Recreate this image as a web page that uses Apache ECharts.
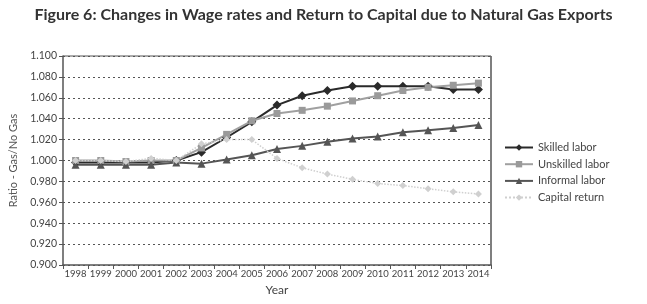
<!DOCTYPE html>
<html>
<head>
    <meta charset="utf-8">
    <title>Figure 6</title>
    <script src="https://cdn.jsdelivr.net/npm/echarts@6/dist/echarts.min.js"></script>
</head>
<body style="margin:0">
    <div id="main" style="width:647px;height:304px;"></div>
    <script type="text/javascript">
        // data
        var years = ['1998', '1999', '2000', '2001', '2002', '2003', '2004', '2005', '2006',
            '2007', '2008', '2009', '2010', '2011', '2012', '2013', '2014'];
        var skilled = [0.998, 0.998, 0.998, 0.998, 1.000, 1.008, 1.022, 1.037, 1.053,
            1.062, 1.067, 1.071, 1.071, 1.071, 1.071, 1.068, 1.068];
        var unskilled = [1.000, 1.000, 0.999, 1.000, 1.000, 1.012, 1.025, 1.038, 1.045,
            1.048, 1.052, 1.057, 1.062, 1.067, 1.070, 1.072, 1.074];
        var informal = [0.996, 0.996, 0.996, 0.996, 0.998, 0.997, 1.001, 1.005, 1.011,
            1.014, 1.018, 1.021, 1.023, 1.027, 1.029, 1.031, 1.034];
        var capital = [1.000, 1.000, 0.999, 1.002, 1.000, 1.016, 1.020, 1.020, 1.002,
            0.993, 0.987, 0.982, 0.978, 0.976, 0.973, 0.970, 0.968];

        var dom = document.getElementById('main');
        var myChart = echarts.init(dom, null, {renderer: 'canvas'});
        var font = 'Lato';

        function line(name, data, color, symbol, size, width, type, symColor) {
            return {
                name: name,
                type: 'line',
                data: data,
                symbol: symbol,
                symbolSize: size,
                lineStyle: {color: color, width: width, type: type},
                itemStyle: {color: symColor || color, borderWidth: 0},
                emphasis: {disabled: true}
            };
        }

        var option = {
            animation: false,
            title: {
                text: 'Figure 6: Changes in Wage rates and Return to Capital due to Natural Gas Exports',
                left: 'center',
                top: 2,
                textStyle: {fontFamily: 'Lato', fontWeight: 'bold', fontSize: 16, color: '#333'}
            },
            legend: {
                orient: 'vertical',
                left: 499,
                top: 137,
                itemWidth: 28,
                itemHeight: 8,
                itemGap: 5.7,
                textStyle: {fontFamily: font, fontSize: 11, color: '#444'},
                data: ['Skilled labor', 'Unskilled labor', 'Informal labor', 'Capital return']
            },
            grid: {left: 58, right: 156, top: 56, bottom: 39},
            xAxis: {
                type: 'category',
                data: years,
                boundaryGap: true,
                name: 'Year',
                nameLocation: 'middle',
                nameGap: 17,
                nameTextStyle: {fontFamily: font, fontSize: 12, color: '#444'},
                axisLine: {lineStyle: {color: '#555', width: 1.5}},
                axisTick: {show: true, alignWithLabel: false, length: 4, lineStyle: {color: '#555'}},
                axisLabel: {fontFamily: font, fontSize: 9.5, color: '#444', margin: 4, interval: 0}
            },
            yAxis: {
                type: 'value',
                min: 0.9,
                max: 1.1,
                interval: 0.02,
                name: 'Ratio - Gas/No Gas',
                nameLocation: 'middle',
                nameRotate: 90,
                nameGap: 44,
                nameTextStyle: {fontFamily: font, fontSize: 11, color: '#555'},
                axisLine: {show: true, lineStyle: {color: '#555', width: 1.5}},
                axisTick: {show: true, length: 4, lineStyle: {color: '#555'}},
                axisLabel: {
                    fontFamily: font, fontSize: 10.5, color: '#444', margin: 6,
                    formatter: function (v) { return v.toFixed(3); }
                },
                splitLine: {lineStyle: {color: '#555', type: [2, 3], width: 1}}
            },
            series: [
                line('Skilled labor', skilled, '#2a2a2a', 'diamond', 9, 2, 'solid'),
                line('Unskilled labor', unskilled, '#a0a0a0', 'rect', 7, 2, 'solid', '#9a9a9a'),
                line('Informal labor', informal, '#555555', 'triangle', 8, 2, 'solid'),
                line('Capital return', capital, '#cfcfcf', 'diamond', 7, 1.5, 'dotted', '#d0d0d0')
            ]
        };
        myChart.setOption(option);
        // frame line on the right side of the plot
        var rect = myChart.getModel().getComponent('grid').coordinateSystem.getRect();
        myChart.setOption({
            graphic: [{
                type: 'line',
                shape: {x1: rect.x + rect.width, y1: rect.y, x2: rect.x + rect.width, y2: rect.y + rect.height},
                style: {stroke: '#555', lineWidth: 1.5}
            }, {
                type: 'line',
                shape: {x1: rect.x, y1: rect.y, x2: rect.x + rect.width, y2: rect.y},
                style: {stroke: '#555', lineWidth: 1}
            }]
        });
    </script>
</body>
</html>
